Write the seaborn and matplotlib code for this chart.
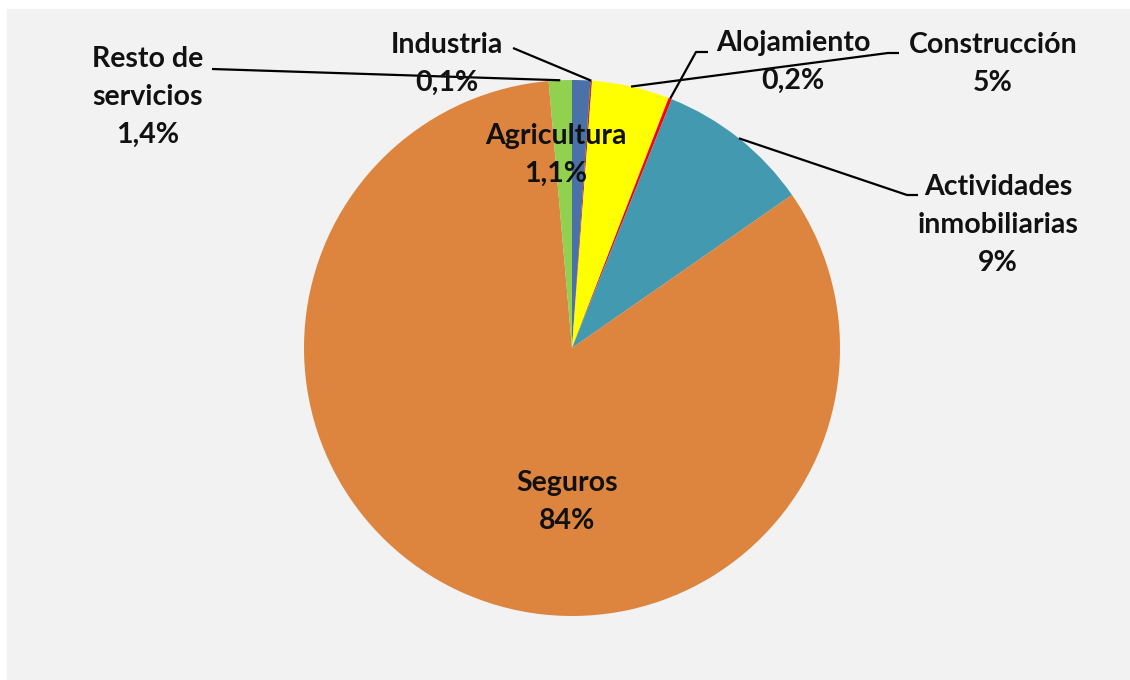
import numpy as np
import matplotlib.pyplot as plt
import seaborn as sns
from matplotlib.patches import Rectangle

sns.set_theme(style="white")
plt.rcParams['font.family'] = ['Lato', 'DejaVu Sans']

# data (clockwise from 12 o'clock)
sectors = ['Agricultura', 'Industria', 'Construcción', 'Alojamiento',
           'Actividades\ninmobiliarias', 'Seguros', 'Resto de\nservicios']
shares = [1.1, 0.1, 4.7, 0.2, 9.3, 83.7, 1.4]
share_labels = ['1,1%', '0,1%', '5%', '0,2%', '9%', '84%', '1,4%']
colors = ['#4A72A8', '#B03A2E', '#FFFF00', '#FF0000', '#4299B0', '#DD843E', '#92D050']

W, H = 1130, 680
fig = plt.figure(figsize=(W / 100, H / 100), dpi=100)
ax = fig.add_axes([0, 0, 1, 1])

# grey panel
ax.add_patch(Rectangle((7, 0), W - 7, H - 9, color='#F2F2F2', zorder=0))

cx, cy, r = 572, H - 348, 268
wedges, _ = ax.pie(shares, colors=colors, startangle=90, counterclock=False,
                   center=(cx, cy), radius=r, frame=True,
                   wedgeprops=dict(linewidth=0))
ax.set_xlim(0, W)
ax.set_ylim(0, H)
ax.set_aspect('equal')
ax.axis('off')

# text positions (pixel coords from top) and leader elbows
txt_pos = {
    0: (556, 155),
    1: (447, 64),
    2: (993, 64),
    3: (793, 62),
    4: (998, 225),
    5: (567, 502),
    6: (148, 97),
}
elbows = {
    1: [(513, 48)],
    2: [(899, 53), (888, 53)],
    3: [(708, 52), (696, 52)],
    4: [(918, 195), (907, 195)],
    6: [(212, 69)],
}

for i, w in enumerate(wedges):
    tx, ty = txt_pos[i]
    ax.text(tx, H - ty, f"{sectors[i]}\n{share_labels[i]}", ha='center', va='center',
            fontsize=20.5, fontweight='bold', color='#111111', linespacing=1.55, zorder=5)
    if i in elbows:
        mid = np.deg2rad((w.theta1 + w.theta2) / 2)
        ex, ey = cx + r * np.cos(mid), cy + r * np.sin(mid)
        pts = [(x, H - y) for x, y in elbows[i]] + [(ex, ey)]
        xs, ys = zip(*pts)
        ax.plot(xs, ys, color='black', lw=1.6, zorder=4, solid_capstyle='butt')

fig.savefig('out.png', dpi=100, facecolor='white')
